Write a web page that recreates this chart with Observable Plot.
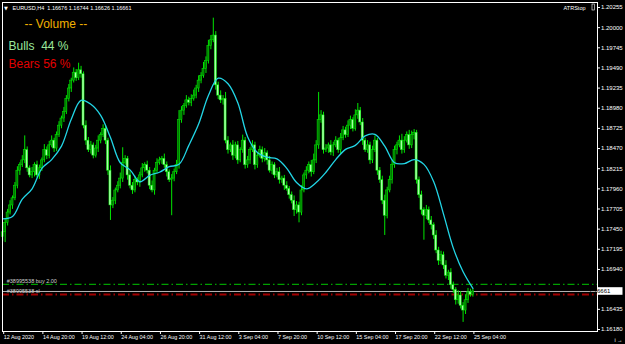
<!DOCTYPE html>
<html><head><meta charset="utf-8">
<script src="https://cdn.jsdelivr.net/npm/d3@7"></script>
<script src="https://cdn.jsdelivr.net/npm/@observablehq/plot@0.6"></script>
<style>
html,body{margin:0;padding:0;background:#000;}
svg{display:block;}
</style></head><body><div id="chart"></div>
<script>
// ---- data ----
const symbolHeader = "EURUSD,H4  1.16676 1.16744 1.16626 1.16661";
const dateLabels = ["12 Aug 2020","14 Aug 20:00","19 Aug 12:00","24 Aug 04:00","26 Aug 20:00","31 Aug 12:00","3 Sep 04:00","7 Sep 20:00","10 Sep 12:00","15 Sep 04:00","17 Sep 20:00","22 Sep 12:00","25 Sep 04:00"];
const dateLabelBars = [0,16,32,48,64,80,96,112,128,144,160,176,192];
const priceTicks = [1.20255,1.20000,1.19745,1.19490,1.19235,1.18980,1.18725,1.18470,1.18215,1.17960,1.17705,1.17450,1.17195,1.16940,1.16435,1.16180];
const firstOpen = 1.1735;
const closes = [
 1.1741,1.1753,1.1766,1.1775,1.1784,1.1800,1.1819,1.1826,1.1832,1.1845,
 1.1822,1.1813,1.1817,1.1826,1.1813,1.1822,1.1832,1.1845,1.1838,1.1851,
 1.1857,1.1847,1.1864,1.1876,1.1885,1.1893,1.1910,1.1923,1.1933,1.1943,
 1.1936,1.1946,1.1941,1.1876,1.1857,1.1845,1.1851,1.1838,1.1847,1.1857,
 1.1864,1.1872,1.1857,1.1819,1.1775,1.1781,1.1794,1.1800,1.1809,1.1829,
 1.1834,1.1813,1.1800,1.1794,1.1807,1.1804,1.1813,1.1822,1.1826,1.1819,
 1.1800,1.1794,1.1819,1.1829,1.1832,1.1834,1.1826,1.1817,1.1807,1.1809,
 1.1817,1.1826,1.1883,1.1895,1.1901,1.1908,1.1905,1.1910,1.1914,1.1923,
 1.1933,1.1939,1.1948,1.1958,1.1977,1.1984,1.1990,1.1927,1.1914,1.1908,
 1.1910,1.1857,1.1845,1.1851,1.1838,1.1851,1.1832,1.1845,1.1857,1.1826,
 1.1832,1.1845,1.1851,1.1826,1.1838,1.1845,1.1834,1.1841,1.1832,1.1819,
 1.1826,1.1813,1.1817,1.1807,1.1809,1.1800,1.1796,1.1788,1.1781,1.1769,
 1.1775,1.1766,1.1794,1.1813,1.1819,1.1826,1.1817,1.1832,1.1851,1.1883,
 1.1889,1.1845,1.1847,1.1851,1.1842,1.1851,1.1857,1.1845,1.1860,1.1870,
 1.1864,1.1876,1.1883,1.1872,1.1889,1.1895,1.1880,1.1857,1.1845,1.1851,
 1.1832,1.1845,1.1857,1.1819,1.1807,1.1781,1.1762,1.1794,1.1807,1.1826,
 1.1845,1.1851,1.1857,1.1845,1.1857,1.1864,1.1851,1.1864,1.1867,1.1807,
 1.1788,1.1769,1.1762,1.1769,1.1756,1.1750,1.1737,1.1718,1.1705,1.1712,
 1.1699,1.1686,1.1690,1.1674,1.1668,1.1655,1.1661,1.1648,1.1642,1.1655,
 1.1665,1.1662,1.16661];
// wick lengths beyond the body, in pips
const wickUpPips = [
 3,5,4,6,3,4,5,3,6,18, 4,3,6,3,5,4,3,7,4,5, 6,3,4,5,3,6,4,5,3,6, 4,9,5,3,6,4,5,3,4,6,
 3,5,4,3,6,4,3,5,7,19, 4,3,6,4,5,3,4,6,3,5, 4,6,3,5,4,3,6,4,3,5, 4,6,12,5,3,6,4,5,7,4,
 6,4,8,5,7,6,22,5,4,6, 4,8,5,3,6,4,5,3,7,4, 5,3,6,4,3,5,4,6,3,5, 4,3,5,6,3,4,5,3,4,6,
 5,4,6,3,5,4,6,8,6,35, 6,4,5,3,6,4,5,3,6,5, 4,6,5,3,7,9,4,5,3,6, 4,5,6,3,4,5,7,4,5,6,
 5,4,6,8,5,4,6,5,4,3, 4,5,3,6,4,5,3,6,4,5, 4,6,3,5,4,3,6,5,4,7, 5,4,3];
const wickDownPips = [
 6,13,4,3,5,3,4,6,3,4, 5,3,4,6,3,5,4,3,5,4, 3,5,4,3,4,5,3,4,5,3, 4,3,5,4,6,3,5,4,3,5,
 4,3,5,6,19,4,5,3,4,5, 3,6,4,5,3,4,6,3,5,4, 5,3,6,4,3,5,4,6,3,45, 4,3,5,4,6,3,4,5,3,4,
 5,4,3,6,4,5,3,6,5,4, 6,4,5,3,6,4,5,3,4,5, 4,5,3,6,4,3,5,4,6,3, 5,4,3,5,4,6,3,5,4,8,
 5,13,4,3,5,4,6,3,4,5, 4,5,3,6,4,5,3,4,5,3, 4,3,5,4,3,5,4,6,3,4, 5,4,3,6,4,5,25,4,3,5,
 4,6,3,5,4,3,5,4,6,5, 4,6,31,5,4,6,5,4,6,5, 5,4,6,5,4,6,5,4,15,5, 4,3,3];
// moving-average line (cyan), sampled every 4 bars
const maBars = [0,4,8,12,16,20,24,28,32,36,40,44,48,52,56,60,64,68,72,76,80,84,88,92,96,100,104,108,112,116,120,124,128,132,136,140,144,148,152,156,160,164,168,172,176,180,184,188,192];
const maValues = [1.1758,1.1761,1.1783,1.1796,1.1822,1.1833,1.1850,1.1884,1.1908,1.1903,1.1889,1.1861,1.1829,1.1820,1.1805,1.1813,1.1817,1.1824,1.1827,1.1851,1.1878,1.1914,1.1936,1.1929,1.1905,1.1862,1.1842,1.1836,1.1834,1.1822,1.1804,1.1796,1.1804,1.1817,1.1833,1.1846,1.1851,1.1863,1.1865,1.1850,1.1829,1.1828,1.1833,1.1827,1.1805,1.1764,1.1721,1.1691,1.1670];
const buyLevel = 1.16751, slLevel = 1.16623, bidPrice = 1.16661;
const orderLabels = ["#38995538 buy 2.00", "#38995538 sl"];
const volumeTitle = "-- Volume --", bullsText = "Bulls  44 %", bearsText = "Bears 56 %";
const indicatorName = "ATRStop";

// ---- build ----
const pip = 0.0001;
const bars = closes.map((c, i) => {
  const o = i === 0 ? firstOpen : closes[i - 1];
  return {i, open: o, close: c, high: Math.max(o, c) + wickUpPips[i] * pip, low: Math.min(o, c) - wickDownPips[i] * pip, up: c >= o};
});
const ma = maBars.map((b, k) => ({i: b, v: maValues[k]}));

const font = "Liberation Sans, Arial, sans-serif";
const chart = Plot.plot({
  width: 625, height: 344,
  marginLeft: 2, marginRight: 28, marginTop: 2, marginBottom: 13,
  style: {background: "#000", color: "#fff", fontFamily: font, overflow: "visible"},
  x: {type: "linear", domain: [0, 192], range: [2.2, 472.4], axis: null},
  y: {domain: [1.16180, 1.20255], range: [329, 7], axis: null},
  marks: [
    Plot.ruleY([buyLevel], {stroke: "#00a000", strokeWidth: 1.2, strokeDasharray: "7,3,1.5,3"}),
    Plot.ruleY([slLevel], {stroke: "#a00000", strokeWidth: 2, strokeDasharray: "7,3,1.5,3"}),
    Plot.ruleY([bidPrice], {stroke: "#b4b4b4", strokeWidth: 1}),
    Plot.text([orderLabels[0]], {x: 0, y: buyLevel, dx: 4, dy: -1.5, textAnchor: "start", lineAnchor: "bottom", fill: "#d0d0d0", fontSize: 5.5}),
    Plot.text([orderLabels[1]], {x: 0, y: slLevel, dx: 4, dy: -1.5, textAnchor: "start", lineAnchor: "bottom", fill: "#d0d0d0", fontSize: 5.5}),
    Plot.ruleX(bars, {x: "i", y1: "low", y2: "high", stroke: "#00e600", strokeWidth: 1}),
    Plot.rect(bars, {x1: d => d.i - 0.42, x2: d => d.i + 0.42, y1: "open", y2: "close",
      fill: d => d.up ? "#007800" : "#a8ffa8", stroke: "#00f000", strokeWidth: 0.5}),
    Plot.line(ma, {x: "i", y: "v", stroke: "#22d6e6", strokeWidth: 1.3, curve: "catmull-rom"}),
    Plot.frame({stroke: "#fff", strokeWidth: 1}),
    Plot.axisY(priceTicks, {anchor: "right", tickSize: 2, tickPadding: 1.5, tickFormat: d => d.toFixed(5), fill: "#fff", stroke: "#fff", fontSize: 6}),
    Plot.axisX(dateLabelBars, {anchor: "bottom", tickSize: 3, tickPadding: 1, tickFormat: d => dateLabels[dateLabelBars.indexOf(d)], textAnchor: "start", dx: 1, fill: "#fff", stroke: "#fff", fontSize: 5.4}),
    Plot.text(["▼"], {frameAnchor: "top-left", dx: 1.5, dy: 7, textAnchor: "start", lineAnchor: "bottom", fill: "#fff", fontSize: 5, fontFamily: "DejaVu Sans"}),
    Plot.text([symbolHeader], {frameAnchor: "top-left", dx: 10, dy: 7, textAnchor: "start", lineAnchor: "bottom", fill: "#fff", fontSize: 5.5}),
    Plot.text([indicatorName], {frameAnchor: "top-right", dx: -12, dy: 7.5, textAnchor: "end", lineAnchor: "bottom", fill: "#fff", fontSize: 5.5}),
    Plot.text([volumeTitle], {frameAnchor: "top-left", dx: 22, dy: 25, textAnchor: "start", lineAnchor: "bottom", fill: "#f0b000", fontSize: 12}),
    Plot.text([bullsText], {frameAnchor: "top-left", dx: 6, dy: 47, textAnchor: "start", lineAnchor: "bottom", fill: "#9be89b", fontSize: 12}),
    Plot.text([bearsText], {frameAnchor: "top-left", dx: 6, dy: 65, textAnchor: "start", lineAnchor: "bottom", fill: "#e00000", fontSize: 12})
  ]
});
document.getElementById("chart").appendChild(chart);

// current-price tag on the right axis, positioned with the chart's own y scale
const svg = d3.select(chart);
const yb = chart.scale("y").apply(bidPrice);
const g = svg.append("g");
g.append("rect").attr("x", 597.5).attr("y", yb - 3.8).attr("width", 25).attr("height", 7.6).attr("fill", "#fff");
g.append("text").attr("x", 599.5).attr("y", yb).attr("dy", "0.34em").attr("fill", "#000").attr("font-size", 6).attr("font-family", font).text(bidPrice.toFixed(5));
// small indicator box glyph next to the name
const fx = 597, fy = 2;
g.append("rect").attr("x", fx - 5).attr("y", fy + 2).attr("width", 2.5).attr("height", 6).attr("fill", "none").attr("stroke", "#fff").attr("stroke-width", 0.6);
</script>
</body></html>
